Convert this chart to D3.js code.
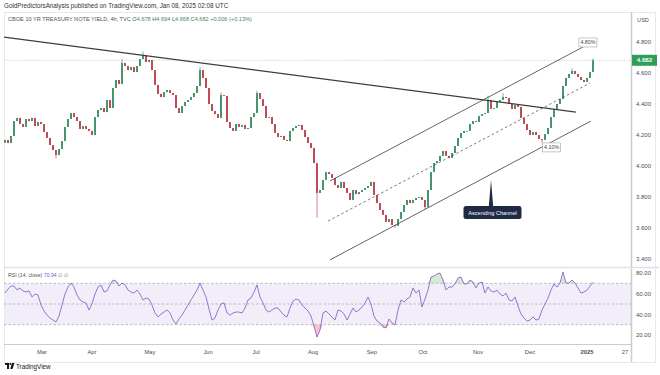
<!DOCTYPE html>
<html><head><meta charset="utf-8">
<script src="https://cdn.jsdelivr.net/npm/d3@7"></script>
<style>body{margin:0;background:#fff}svg text{font-family:"Liberation Sans",Arial,sans-serif}</style>
</head><body><svg id="c" width="660" height="375"></svg>
<script>
// ---- data ----
const firstOpen = 4.150;
const closes = [4.168,4.148,4.194,4.290,4.310,4.271,4.252,4.303,4.290,4.310,
4.258,4.284,4.271,4.219,4.181,4.135,4.103,4.071,4.110,4.161,
4.252,4.303,4.342,4.316,4.290,4.239,4.258,4.239,4.226,4.200,
4.316,4.361,4.374,4.348,4.426,4.374,4.503,4.555,4.529,4.665,
4.645,4.619,4.639,4.606,4.645,4.690,4.716,4.671,4.684,4.619,
4.523,4.465,4.445,4.477,4.490,4.471,4.458,4.374,4.342,4.387,
4.413,4.426,4.445,4.471,4.516,4.619,4.568,4.503,4.400,4.355,
4.335,4.310,4.458,4.452,4.284,4.245,4.226,4.271,4.252,4.265,
4.239,4.245,4.316,4.342,4.471,4.432,4.387,4.310,4.316,4.271,
4.213,4.187,4.194,4.168,4.161,4.226,4.245,4.258,4.265,4.232,
4.187,4.148,4.116,4.019,3.826,3.845,3.910,3.961,3.948,3.923,
3.877,3.858,3.897,3.858,3.826,3.781,3.845,3.819,3.832,3.845,
3.858,3.871,3.897,3.813,3.761,3.716,3.684,3.639,3.658,3.619,
3.613,3.658,3.703,3.748,3.781,3.761,3.781,3.794,3.800,3.781,
3.735,3.845,3.961,4.019,4.032,4.065,4.097,4.065,4.052,4.084,
4.129,4.181,4.213,4.226,4.226,4.271,4.290,4.284,4.323,4.335,
4.342,4.426,4.368,4.374,4.413,4.426,4.445,4.439,4.400,4.368,
4.394,4.381,4.310,4.271,4.232,4.200,4.219,4.200,4.174,4.168,
4.206,4.245,4.316,4.368,4.400,4.432,4.516,4.568,4.594,4.613,
4.594,4.574,4.555,4.542,4.568,4.606,4.682];
const wickHighs = {39:4.690, 46:4.739, 65:4.640, 72:4.475, 84:4.485, 161:4.455, 166:4.470, 189:4.630, 196:4.694};
const wickLows = {17:4.050, 104:3.667, 130:3.600, 140:3.720, 179:4.150};
const rsi = [60.6,64.5,67.4,67.4,63.5,65.5,62.6,61.6,62.6,56.8,
59.7,58.7,49.0,43.2,39.3,36.4,34.5,32.6,38.4,49.0,
59.7,66.4,70.3,66.4,58.7,53.9,51.9,51.0,44.2,50.0,
59.7,66.4,68.4,61.6,62.6,68.4,73.2,72.3,67.4,70.3,
68.4,63.5,61.6,60.6,63.5,59.7,53.9,55.8,54.8,49.0,
41.3,37.4,40.3,42.2,44.2,41.3,34.5,30.6,35.5,39.3,
44.2,49.0,53.9,58.7,63.5,70.3,63.5,56.8,45.2,34.5,
36.4,44.2,50.0,51.0,41.3,39.3,41.3,42.2,42.2,41.3,
46.1,53.9,55.8,61.6,68.4,56.8,51.0,44.2,42.2,44.2,
46.1,46.1,42.2,39.3,37.4,46.1,52.9,54.8,53.9,49.0,
46.1,43.2,38.4,28.7,18.0,24.8,41.3,43.2,40.3,37.4,
34.5,44.2,43.2,40.3,34.5,40.3,46.1,42.2,44.2,47.1,
51.0,56.8,50.0,38.4,33.5,31.6,27.7,26.8,35.5,31.6,
29.7,44.2,53.9,51.9,54.8,56.8,65.5,60.6,63.5,47.1,
54.8,63.5,76.1,77.1,79.0,80.0,73.2,63.5,66.4,66.4,
69.4,75.2,76.1,69.4,69.4,73.2,71.3,65.5,70.3,71.3,
60.6,66.4,62.6,61.6,63.5,59.7,57.8,60.6,53.9,52.9,
56.8,48.1,40.3,36.4,33.5,34.5,37.4,34.5,35.5,44.2,
50.0,55.8,63.5,69.4,66.4,70.3,81.0,70.3,70.3,73.2,
70.3,65.5,60.6,61.6,63.5,67.4,70.94];
const priceTicks = [3.4,3.6,3.8,4.0,4.2,4.4,4.6,4.8];
const rsiTicks = [20,40,60,80];
const rsiLevels = [70,50,30];
const timeLabels = ["Mar","Apr","May","Jun","Jul","Aug","Sep","Oct","Nov","Dec","2025","27"];
const timeLabelIdx = [12.3,29,48.3,67.7,83.7,102.7,122.3,139.3,157.7,175,194,206.7];
const trendDown = [[-0.3,4.832],[190.3,4.348]];
const channelUpper = [[108.3,3.903],[192.7,4.768]];
const channelLower = [[108.3,3.394],[195.3,4.290]];
const channelMid = [[107.7,3.645],[195,4.535]];
const lastPrice = 4.682;

// ---- layout ----
const svg = d3.select("#c");
const W=660,H=375, plotL=4, plotR=631, paneTop=12, paneBot=267, rsiBot=344, axisBot=362;
const x = d3.scaleLinear().domain([0,196]).range([5,593]);
const y = d3.scaleLinear().domain([3.4,4.8]).range([259,42]);
const yr = d3.scaleLinear().domain([20,80]).range([335,273]);
const UP="#2a8455", DN="#b52f3a", TXT="#4a4e59";

svg.append("rect").attr("width",W).attr("height",H).attr("fill","#fff");
// frame
svg.append("rect").attr("x",plotL+0.5).attr("y",paneTop+0.5).attr("width",W-plotL-5).attr("height",axisBot-paneTop)
  .attr("fill","none").attr("stroke","#e6e8ec");
svg.append("line").attr("x1",plotR+0.5).attr("x2",plotR+0.5).attr("y1",paneTop).attr("y2",axisBot).attr("stroke","#c9ccd3").attr("stroke-width",1.5);
svg.append("line").attr("x1",plotL).attr("x2",W-1).attr("y1",paneBot+0.5).attr("y2",paneBot+0.5).attr("stroke","#dfe1e6").attr("stroke-width",1.5);
svg.append("line").attr("x1",plotL).attr("x2",plotR).attr("y1",rsiBot+0.5).attr("y2",rsiBot+0.5).attr("stroke","#c9ccd3").attr("stroke-width",1.2);

// header
svg.append("text").attr("x",4).attr("y",8).attr("font-size",6.3).attr("fill","#333").text("GoldPredictorsAnalysis published on TradingView.com, Jan 08, 2025 02:08 UTC");
const hdr = svg.append("text").attr("x",8).attr("y",21).attr("font-size",5.6).attr("fill","#555");
hdr.append("tspan").text("CBOE 10 YR TREASURY NOTE YIELD, 4h, TVC  ");
[["O","4.678"],["H","4.694"],["L","4.668"],["C","4.682"]].forEach(([k,v])=>{
  hdr.append("tspan").attr("fill","#555").text(k);
  hdr.append("tspan").attr("fill","#3a8a5a").text(v+"  ");
});
hdr.append("tspan").attr("fill","#3a8a5a").text("+0.006 (+0.13%)");

// price axis
svg.append("text").attr("x",643).attr("y",22).attr("font-size",5.6).attr("text-anchor","middle").attr("fill",TXT).text("USD");
const pa = svg.append("g").attr("transform",`translate(${plotR},0)`)
  .call(d3.axisRight(y).tickValues(priceTicks).tickFormat(d3.format(".3f")).tickSize(0).tickPadding(5));
pa.select(".domain").remove();
pa.selectAll("text").attr("font-size",6).attr("fill",TXT).attr("font-family","Liberation Sans, Arial, sans-serif");

// RSI axis
const ra = svg.append("g").attr("transform",`translate(${plotR},0)`)
  .call(d3.axisRight(yr).tickValues(rsiTicks).tickFormat(d3.format(".2f")).tickSize(0).tickPadding(5));
ra.select(".domain").remove();
ra.selectAll("text").attr("font-size",6).attr("fill",TXT).attr("font-family","Liberation Sans, Arial, sans-serif");

// time axis
const ta = svg.append("g");
timeLabels.forEach((t,i)=>{
  ta.append("text").attr("x",x(timeLabelIdx[i])).attr("y",354).attr("text-anchor","middle")
    .attr("font-size",5.8).attr("fill",TXT).attr("font-weight",t==="2025"?"bold":"normal").text(t);
});

// last price line
svg.append("line").attr("x1",plotL).attr("x2",plotR).attr("y1",y(lastPrice)).attr("y2",y(lastPrice))
  .attr("stroke","#8fc9a3").attr("stroke-width",0.7).attr("stroke-dasharray","1,1.5");
svg.append("rect").attr("x",plotR+1).attr("y",y(lastPrice)-5.5).attr("width",25).attr("height",11).attr("fill","#2f9e57");
svg.append("text").attr("x",plotR+13.5).attr("y",y(lastPrice)+2.2).attr("text-anchor","middle").attr("font-size",6.2)
  .attr("font-weight","bold").attr("fill","#fff").text(lastPrice.toFixed(3));

// candles
const candles = closes.map((c,i)=>{
  const o = i===0?firstOpen:closes[i-1];
  const h = wickHighs[i]!==undefined?wickHighs[i]:Math.max(o,c);
  const l = wickLows[i]!==undefined?wickLows[i]:Math.min(o,c);
  return {i,o,c,h,l};
});
const cg = svg.append("g");
cg.selectAll("line.w").data(candles).join("line")
  .attr("x1",d=>x(d.i)).attr("x2",d=>x(d.i)).attr("y1",d=>y(d.h)).attr("y2",d=>y(d.l))
  .attr("stroke",d=>d.c>=d.o?UP:DN).attr("stroke-width",0.6);
cg.selectAll("rect.b").data(candles).join("rect")
  .attr("x",d=>x(d.i)-0.8).attr("width",1.6)
  .attr("y",d=>y(Math.max(d.o,d.c))).attr("height",d=>Math.max(0.8,Math.abs(y(d.o)-y(d.c))))
  .attr("fill",d=>d.c>=d.o?UP:DN);

// trend lines
const seg = (pts,opts)=>svg.append("line").attr("x1",x(pts[0][0])).attr("y1",y(pts[0][1]))
  .attr("x2",x(pts[1][0])).attr("y2",y(pts[1][1])).attr("stroke",opts.c).attr("stroke-width",opts.w)
  .attr("stroke-dasharray",opts.d||null);
seg(trendDown,{c:"#3b3d44",w:1.2});
seg(channelUpper,{c:"#3b3d44",w:0.8});
seg(channelLower,{c:"#3b3d44",w:0.8});
seg(channelMid,{c:"#3b3d44",w:0.7,d:"2.5,2.5"});

// price tags
const tag=(idx,p,t)=>{
  const cx=x(idx), cy=y(p);
  svg.append("rect").attr("x",cx-9).attr("y",cy-4.5).attr("width",18).attr("height",9)
    .attr("fill","#fff").attr("stroke","#9aa0ab").attr("stroke-width",0.6);
  svg.append("text").attr("x",cx).attr("y",cy+2).attr("text-anchor","middle").attr("font-size",5.3).attr("fill","#444").text(t);
};
tag(194.3,4.797,"4.80%");
tag(182.2,4.120,"4.10%");

// callout
{
  const tipX=x(162), tipY=y(3.910), bx=x(162.5), by=y(3.70);
  svg.append("path").attr("d",`M${tipX},${tipY} L${tipX+2.2},${by-6} L${tipX-2.2},${by-6} Z`).attr("fill","#1f2a44");
  svg.append("rect").attr("x",bx-29).attr("y",by-6.5).attr("width",58).attr("height",13).attr("rx",2.5).attr("fill","#1f2a44");
  svg.append("text").attr("x",bx).attr("y",by+2).attr("text-anchor","middle").attr("font-size",5.6).attr("fill","#fff").text("Ascending Channel");
}

// RSI pane
svg.append("rect").attr("x",plotL+1).attr("width",plotR-plotL-1).attr("y",yr(70)).attr("height",yr(30)-yr(70)).attr("fill","#7e57c2").attr("opacity",0.1);
rsiLevels.forEach(v=>svg.append("line").attr("x1",plotL).attr("x2",plotR).attr("y1",yr(v)).attr("y2",yr(v))
  .attr("stroke","#9598a1").attr("stroke-width",0.6).attr("stroke-dasharray","2.5,2"));
const rsiPts = rsi.map((v,i)=>[i,v]);
svg.append("path").datum(rsiPts).attr("fill","#4caf50").attr("opacity",0.25)
  .attr("d",d3.area().x(d=>x(d[0])).y0(yr(70)).y1(d=>yr(Math.max(70,d[1]))));
svg.append("path").datum(rsiPts).attr("fill","#f23645").attr("opacity",0.3)
  .attr("d",d3.area().x(d=>x(d[0])).y0(yr(30)).y1(d=>yr(Math.min(30,d[1]))));
svg.append("path").datum(rsiPts).attr("fill","none").attr("stroke","#7e57c2").attr("stroke-width",0.8)
  .attr("d",d3.line().x(d=>x(d[0])).y(d=>yr(d[1])));
const rl = svg.append("text").attr("x",8).attr("y",277).attr("font-size",5.2).attr("fill","#555");
rl.append("tspan").text("RSI (14, close)  ");
rl.append("tspan").attr("fill","#7e57c2").text(rsi[rsi.length-1].toFixed(2)+"  ");
rl.append("tspan").attr("fill","#777").text("∅  ∅");

// TradingView mark
const lg = svg.append("g").attr("transform","translate(5,363)");
lg.append("path").attr("d","M0,0 H4 V6 H2 V2 H0 Z").attr("fill","#131722");
lg.append("circle").attr("cx",5.3).attr("cy",1).attr("r",1).attr("fill","#131722");
lg.append("path").attr("d","M7,0 H9.5 L7.5,6 H5.2 Z").attr("fill","#131722");
svg.append("text").attr("x",16).attr("y",369).attr("font-size",6.3).attr("fill","#131722").text("TradingView");
</script></body></html>
